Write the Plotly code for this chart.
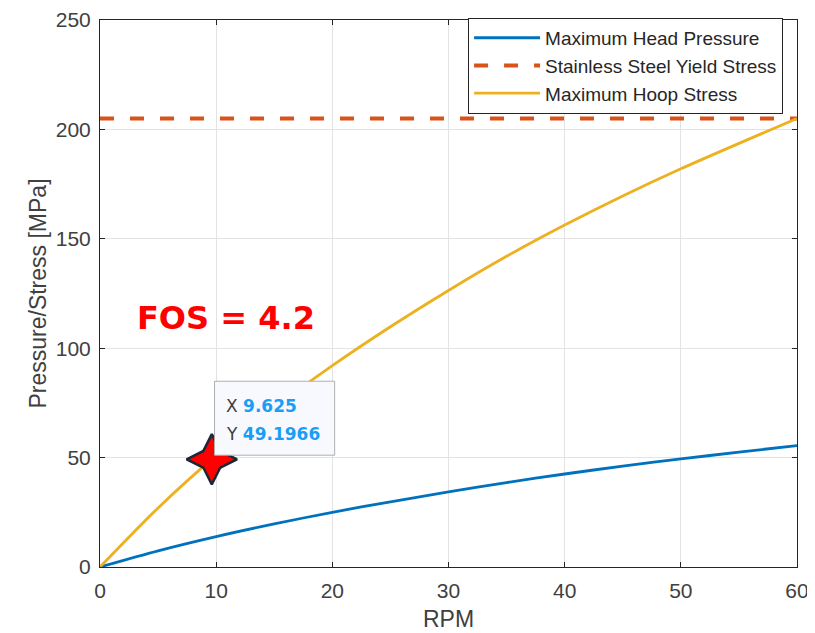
import plotly.graph_objects as go

# ---- data ----
rpm = [0, 5, 10, 15, 20, 25, 30, 35, 40, 45, 50, 55, 60]
head_pressure = [0, 7.4, 13.9, 19.7, 25.0, 29.8, 34.3, 38.6, 42.5, 46.1, 49.4, 52.5, 55.5]
hoop_stress = [0, 27.0, 51.0, 72.6, 92.0, 109.8, 126.4, 142.0, 156.3, 169.6, 182.0, 193.6, 205.0]
yield_x = [0, 60]
yield_stress = [205, 205]
tip_x = [9.625]
tip_y = [49.1966]
fos_label = "FOS = 4.2"
x_ticks = [0, 10, 20, 30, 40, 50, 60]
y_ticks = [0, 50, 100, 150, 200, 250]

BLUE = "#0072BD"
ORANGE = "#D95319"
YELLOW = "#EDB120"
AXC = "#262626"
FONT = "Liberation Sans, Arial"

fig = go.Figure()
fig.add_trace(go.Scatter(x=rpm, y=head_pressure, mode="lines", name="Maximum Head Pressure",
                         line=dict(color=BLUE, width=2.8, shape="spline", smoothing=0.8)))
fig.add_trace(go.Scatter(x=yield_x, y=yield_stress, mode="lines", name="Stainless Steel Yield Stress",
                         line=dict(color=ORANGE, width=4, dash="14px,16px")))
fig.add_trace(go.Scatter(x=rpm, y=hoop_stress, mode="lines", name="Maximum Hoop Stress",
                         line=dict(color=YELLOW, width=2.8, shape="spline", smoothing=0.8)))

# data-tip marker: 4-point star built from a tall and a wide diamond (outline, then fill)
for sym in ["diamond-tall", "diamond-wide"]:
    fig.add_trace(go.Scatter(x=tip_x, y=tip_y, mode="markers", showlegend=False, hoverinfo="skip",
                             marker=dict(symbol=sym, size=36, color="#1B2838",
                                         line=dict(color="#1B2838", width=2.5))))
for sym in ["diamond-tall", "diamond-wide"]:
    fig.add_trace(go.Scatter(x=tip_x, y=tip_y, mode="markers", showlegend=False, hoverinfo="skip",
                             marker=dict(symbol=sym, size=32, color="#FF0000",
                                         line=dict(width=0))))

# data tip box
fig.add_shape(type="rect", xref="x", yref="y", x0=9.86, x1=20.2, y0=51.1, y1=84.9,
              fillcolor="#F8F9FF", line=dict(color="#AFAFAF", width=1), layer="above")
fig.add_annotation(x=10.65, y=73.7, xref="x", yref="y", xanchor="left", yanchor="middle",
                   showarrow=False,
                   text="X <b><span style='color:#1A9EF5'>%s</span></b>" % tip_x[0],
                   font=dict(family="DejaVu Sans", size=17, color="#404040"))
fig.add_annotation(x=10.65, y=60.8, xref="x", yref="y", xanchor="left", yanchor="middle",
                   showarrow=False,
                   text="Y <b><span style='color:#1A9EF5'>%s</span></b>" % tip_y[0],
                   font=dict(family="DejaVu Sans", size=17, color="#404040"))

# FOS label
fig.add_annotation(x=10.85, y=114, xref="x", yref="y", xanchor="center", yanchor="middle",
                   showarrow=False, text="<b>%s</b>" % fos_label,
                   font=dict(family="DejaVu Sans", size=32, color="#FF0000"))

axis_common = dict(showline=True, linecolor=AXC, linewidth=1, mirror="ticks",
                   ticks="inside", ticklen=5, tickcolor=AXC, tickwidth=1,
                   showgrid=True, gridcolor="#E3E3E3", gridwidth=1, zeroline=False,
                   automargin=False,
                   tickfont=dict(family=FONT, size=21, color="#404040"))

fig.update_xaxes(range=[0, 60], tickvals=x_ticks, ticklabelstandoff=5,
                 title=dict(text="RPM", standoff=9,
                            font=dict(family=FONT, size=23, color="#404040")),
                 **axis_common)
fig.update_yaxes(range=[0, 250], tickvals=y_ticks, ticklabelstandoff=4,
                 title=dict(text="Pressure/Stress [MPa]", standoff=2,
                            font=dict(family=FONT, size=23, color="#404040")),
                 **axis_common)

# the page body adds an 8px offset, so the figure is 8px smaller and margins shifted
fig.update_layout(
    width=807, height=625,
    margin=dict(l=92, r=18, t=11, b=66),
    plot_bgcolor="white", paper_bgcolor="white",
    legend=dict(x=0.98, y=1.002, xanchor="right", yanchor="top",
                bgcolor="white", bordercolor=AXC, borderwidth=1,
                itemwidth=66, tracegroupgap=0,
                font=dict(family=FONT, size=19, color="#262626")),
    showlegend=True,
)

fig.write_html("out.html")
